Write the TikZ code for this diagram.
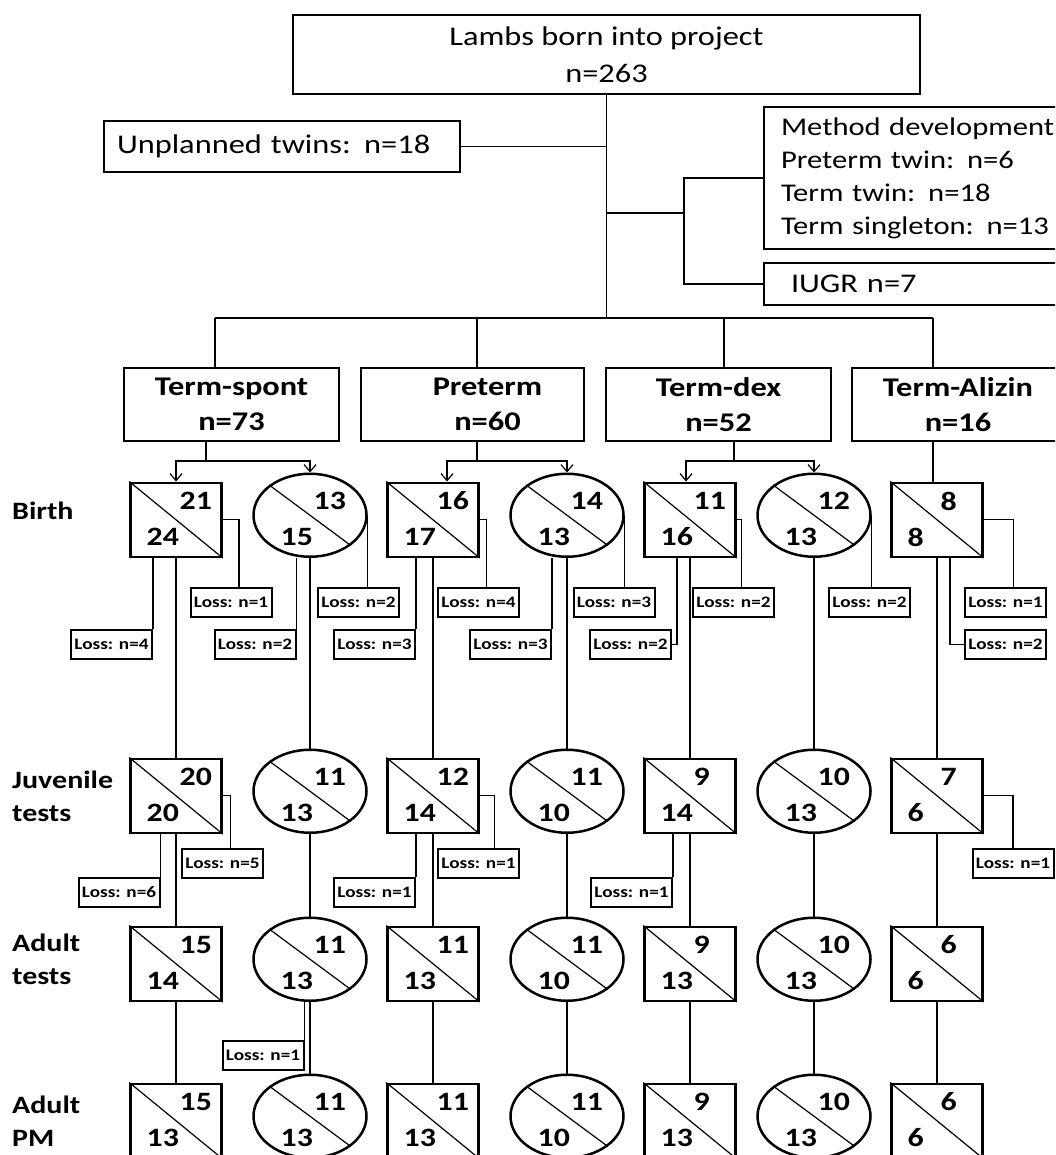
\documentclass[tikz,border=0pt]{standalone}
\usepackage{fontspec}
\setmainfont{Carlito}[FakeStretch=1.2]
\usetikzlibrary{shapes.geometric,arrows.meta}

\tikzset{
  box/.style={draw, line width=2.5pt, inner sep=0pt, font=\fontsize{27}{37}\selectfont},
  grp/.style={draw, line width=2.5pt, inner sep=0pt, align=center, minimum height=73pt, font=\bfseries\fontsize{27}{35}\selectfont},
  sq/.style={draw, line width=2.5pt, minimum width=91pt, minimum height=74pt, inner sep=0pt},
  ell/.style={draw, ellipse, line width=2.5pt, minimum width=113pt, minimum height=83pt, inner sep=0pt},
  num/.style={anchor=west, inner sep=0pt, font=\bfseries\fontsize{26.5}{26.5}\selectfont},
  loss/.style={draw, line width=2pt, minimum width=81pt, minimum height=29pt, inner sep=0pt, font=\bfseries\fontsize{16}{16}\selectfont},
  lab/.style={anchor=west, align=left, inner sep=0pt, font=\bfseries\fontsize{25}{33}\selectfont},
  ln/.style={line width=1.2pt},
  arr/.style={ln, -{Straight Barb[length=7pt,width=12pt]}}
}

% split box: style, name, bottom point, top count, bottom count
\newcommand{\lamb}[5]{%
  \node[#1, anchor=south] (#2) at (#3) {};
  \draw[ln] (#2.north west) -- (#2.south east);
  \node[num] (#2-t) at ([xshift=3.5pt,yshift=57pt]#2.south) {#4};
  \node[num] (#2-b) at ([xshift=-29.5pt,yshift=21pt]#2.south) {#5};
}

\begin{document}
\begin{tikzpicture}
\begin{scope}[x=1pt,y=-1pt]
\useasboundingbox (0,0) rectangle (1055,1155);
\clip (0,0) rectangle (1055,1155);

% top of the chart
\node[box, minimum width=627pt, minimum height=79pt, align=center] (main) at (606.5,54.5) {Lambs born into project\\n=263};
\node[box, minimum height=51pt, text width=330pt, inner xsep=13pt, align=left] (twins) at (282,146.5) {Unplanned twins: n=18};
\node[box, minimum height=142pt, text width=286pt, inner xsep=17pt, align=left, font=\fontsize{25.5}{33}\selectfont] (method) at (924,178) {Method development\\Preterm twin: n=6\\Term twin: n=18\\Term singleton: n=13};
\node[box, minimum height=42pt, text width=266pt, inner xsep=27pt, align=left] (iugr) at (924,284) {IUGR n=7};

\coordinate (bar) at (604,318);
\coordinate (split) at (684,213);
\draw[ln] (main.south) -- (main.south |- bar);
\draw[ln] (twins.east) -- (twins.east -| main.south);
\draw[ln] (split -| main.south) -- (split);
\draw[ln] (method.west) -| (split) |- (iugr.west);

% groups
\node[grp, minimum width=215pt] (ts) at (231.5,404.5) {Term-spont\\n=73};
\node[grp, minimum width=223pt] (pt) at (472.5,404.5) {\hspace*{30pt}Preterm\\\hspace*{30pt}n=60};
\node[grp, minimum width=225pt] (td) at (718.5,404.5) {Term-dex\\n=52};
\node[grp, minimum width=212pt] (ta) at (958,404.5) {Term-Alizin\\n=16};

\coordinate (ts-in) at (215,318);
\coordinate (pt-in) at (477,318);
\coordinate (td-in) at (724,318);
\coordinate (ta-in) at (933,318);
\draw[ln] (ts-in) -- (ta-in);
\foreach \g in {ts,pt,td,ta}
  \draw[ln] (\g-in) -- (\g-in |- \g.north);

% row labels
\node[lab] (birth) at (12,511) {Birth};
\node[lab] (juv) at (12,796.5) {Juvenile\\tests};
\node[lab] (adult) at (12,959) {Adult\\tests};
\node[lab] (pm) at (12,1121) {Adult\\PM};

% the four rows
\foreach \s/\n/\x/\t/\b in {sq/1/176/21/24, ell/2/310/13/15, sq/3/433/16/17, ell/4/567/14/13,
    sq/5/690/11/16, ell/6/814/12/13, sq/7/937/8/8}
  {\lamb{\s}{b\n}{\x,558}{\t}{\b}}
\foreach \s/\n/\x/\t/\b in {sq/1/176/20/20, ell/2/310/11/13, sq/3/433/12/14, ell/4/567/11/10,
    sq/5/690/9/14, ell/6/814/10/13, sq/7/937/7/6}
  {\lamb{\s}{j\n}{\x,834}{\t}{\b}}
\foreach \s/\n/\x/\t/\b in {sq/1/176/15/14, ell/2/310/11/13, sq/3/433/11/13, ell/4/567/11/10,
    sq/5/690/9/13, ell/6/814/10/13, sq/7/937/6/6}
  {\lamb{\s}{a\n}{\x,1002}{\t}{\b}}
\foreach \s/\n/\x/\t/\b in {sq/1/176/15/13, ell/2/310/11/13, sq/3/433/11/13, ell/4/567/11/10,
    sq/5/690/9/13, ell/6/814/10/13, sq/7/937/6/6}
  {\lamb{\s}{p\n}{\x,1159}{\t}{\b}}

\foreach \n in {1,...,7} {
  \draw[ln] (b\n.south) -- (j\n.north);
  \draw[ln] (j\n.south) -- (a\n.north);
  \draw[ln] (a\n.south) -- (p\n.north);
}

% group to birth
\coordinate (ts-out) at (206,461);
\coordinate (pt-out) at (477,461);
\coordinate (td-out) at (734,461);
\draw[ln] (ts-out |- ts.south) -- (ts-out);
\draw[arr] (ts-out) -| (b1.north);
\draw[arr] (ts-out) -| (b2.north);
\draw[ln] (pt-out |- pt.south) -- (pt-out);
\draw[arr] (pt-out) -| ([xshift=14pt]b3.north);
\draw[arr] (pt-out) -| (b4.north);
\draw[ln] (td-out |- td.south) -- (td-out);
\draw[arr] (td-out) -| ([xshift=-4pt]b5.north);
\draw[arr] (td-out) -| (b6.north);
\draw[ln] (ta-in |- ta.south) -- (ta-in |- b7.north);

% losses after birth
\node[loss] (b1-loss) at (231,602.5) {Loss: n=1};
\node[loss] (b2-loss) at (358.5,602.5) {Loss: n=2};
\node[loss] (b3-loss) at (478.5,602.5) {Loss: n=4};
\node[loss] (b4-loss) at (614,602.5) {Loss: n=3};
\node[loss] (b5-loss) at (733.5,602.5) {Loss: n=2};
\node[loss] (b6-loss) at (869.5,602.5) {Loss: n=2};
\node[loss] (b7-loss) at (1005.5,602.5) {Loss: n=1};
\node[loss] (b1-loss2) at (111.5,644.5) {Loss: n=4};
\node[loss] (b2-loss2) at (255,644.5) {Loss: n=2};
\node[loss] (b3-loss2) at (374.5,644.5) {Loss: n=3};
\node[loss] (b4-loss2) at (510.5,644.5) {Loss: n=3};
\node[loss] (b5-loss2) at (630.5,644.5) {Loss: n=2};
\node[loss] (b7-loss2) at (1005.5,644.5) {Loss: n=2};

\foreach \n in {1,3,5,7}
  \draw[ln] (b\n.east) -| ([xshift=8pt]b\n-loss.north);
\foreach \n in {2,4,6}
  \draw[ln] (b\n.east) -- (b\n.east |- b\n-loss.north);
\foreach \n in {1,2,3,4}
  \draw[ln] (b\n.south -| b\n-loss2.north east) -- (b\n-loss2.north east);
\draw[ln] ([xshift=-13pt]b5.south) |- (b5-loss2.east);
\draw[ln] ([xshift=13pt]b7.south) |- (b7-loss2.west);

% losses after juvenile tests
\node[loss] (j1-loss) at (222.5,863.5) {Loss: n=5};
\node[loss] (j3-loss) at (478.5,863.5) {Loss: n=1};
\node[loss] (j7-loss) at (1013,863.5) {Loss: n=1};
\node[loss] (j1-loss2) at (119,892.5) {Loss: n=6};
\node[loss] (j3-loss2) at (374.5,892.5) {Loss: n=1};
\node[loss] (j5-loss2) at (631.5,892.5) {Loss: n=1};

\draw[ln] (j1.east) -| ([xshift=8pt]j1-loss.north);
\draw[ln] (j3.east) -| ([xshift=16pt]j3-loss.north);
\draw[ln] (j7.east) -| (j7-loss.north);
\foreach \n in {1,3,5}
  \draw[ln] (j\n.south -| j\n-loss2.north east) -- (j\n-loss2.north east);

% loss after adult tests
\node[loss] (a2-loss) at (263,1055) {Loss: n=1};
\draw[ln] (a2.south -| a2-loss.north east) -- (a2-loss.north east);

\end{scope}
\end{tikzpicture}
\end{document}
